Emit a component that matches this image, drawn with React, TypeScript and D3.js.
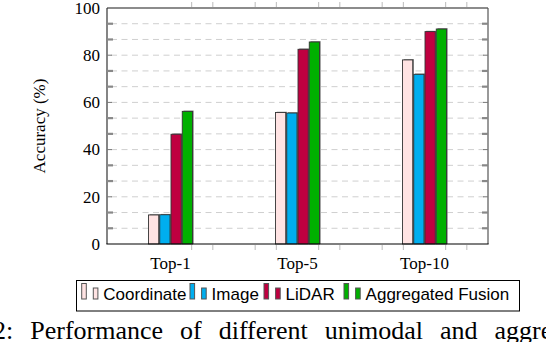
import React from "react";
import * as d3 from "d3";

const categories = ["Top-1", "Top-5", "Top-10"];
const seriesNames = ["Coordinate", "Image", "LiDAR", "Aggregated Fusion"];
const coordinate = [12.3, 55.7, 78.0];
const image = [12.4, 55.5, 71.9];
const lidar = [46.5, 82.5, 90.0];
const fusion = [56.2, 85.6, 91.1];
const yTickLabels = [0, 20, 40, 60, 80, 100];
const xMinorTicks = [1, 2, 4, 5, 7, 8, 10, 11, 13, 14].map((k) => k / 6);
const colors = ["#FFE3E3", "#00AEEF", "#BF0040", "#00B000"];

const W = 546;
const H = 342;
const L = 107, R = 488, T = 8, B = 244;

export default function App() {
  const values = [coordinate, image, lidar, fusion];
  const x = d3.scaleLinear().domain([-0.5, 2.5]).range([L, R]);
  const inner = d3.scaleBand<string>().domain(seriesNames).range([-22, 22]).paddingInner(0.09);
  const y = d3.scaleLinear().domain([0, 100]).range([B, T]);
  const gridVals = d3.range(1, 15).map((k) => (k * 20) / 3);
  const minorVals = gridVals.filter((v) => Math.abs(v / 20 - Math.round(v / 20)) > 0.01);
  const majorVals = yTickLabels.filter((v) => v > 0 && v < 100);
  const serif = "Liberation Serif, Times New Roman, serif";
  const sans = "Liberation Sans, Arial, sans-serif";
  const legendX = [81.7, 190, 264, 344];
  return (
    <svg width={W} height={H} style={{ position: "absolute", left: 0, top: 0, background: "#fff" }}>
      {gridVals.map((v) => (
        <line key={"g" + v} x1={L + 4} x2={R - 4} y1={y(v)} y2={y(v)} stroke="#cfcfcf" strokeWidth={1} strokeDasharray="6 4.5" />
      ))}
      {categories.map((c, i) => (
        <g key={c}>
          {seriesNames.map((s, j) => {
            const bx = x(i) + (inner(s) as number);
            const bw = inner.bandwidth();
            const by = y(values[j][i]);
            return (
              <g key={s}>
                <rect x={bx + 1.2} y={by - 0.8} width={bw} height={B - by + 0.8} fill="#808080" />
                <rect x={bx} y={by} width={bw} height={B - by} fill={colors[j]} stroke="#333" strokeWidth={0.9} />
              </g>
            );
          })}
        </g>
      ))}
      <line x1={L} x2={R} y1={T} y2={T} stroke="#666" strokeWidth={1.6} />
      <line x1={R} x2={R} y1={T} y2={B} stroke="#555" strokeWidth={1.2} />
      <line x1={L} x2={L} y1={T} y2={B} stroke="#333" strokeWidth={1.2} />
      <line x1={L - 0.6} x2={R + 0.6} y1={B} y2={B} stroke="#000" strokeWidth={1.2} />
      {minorVals.map((v) => (
        <g key={"m" + v}>
          <line x1={L} x2={L + 6} y1={y(v)} y2={y(v)} stroke="#888" strokeWidth={2.2} />
          <line x1={R - 6} x2={R} y1={y(v)} y2={y(v)} stroke="#888" strokeWidth={2.2} />
        </g>
      ))}
      {majorVals.map((v) => (
        <g key={"M" + v}>
          <line x1={L} x2={L + 5} y1={y(v)} y2={y(v)} stroke="#777" strokeWidth={1} />
          <line x1={R - 5} x2={R} y1={y(v)} y2={y(v)} stroke="#777" strokeWidth={1} />
        </g>
      ))}
      {xMinorTicks.map((t) => (
        <g key={"x" + t}>
          <line x1={x(t)} x2={x(t)} y1={B + 1} y2={B + 6} stroke="#bbb" strokeWidth={1} />
          <line x1={x(t)} x2={x(t)} y1={T - 6} y2={T - 1} stroke="#bbb" strokeWidth={1} />
        </g>
      ))}
      {yTickLabels.map((v) => (
        <text key={"yl" + v} x={100} y={y(v)} dy="0.34em" textAnchor="end" fontFamily={serif} fontSize={17} fill="#000">
          {v}
        </text>
      ))}
      <text transform={`translate(45,${(T + B) / 2}) rotate(-90)`} textAnchor="middle" fontFamily={serif} fontSize={17} fill="#000">
        Accuracy (%)
      </text>
      {categories.map((c, i) => (
        <text key={"xl" + c} x={x(i)} y={269} textAnchor="middle" fontFamily={serif} fontSize={17} fill="#000">
          {c}
        </text>
      ))}
      <rect x={76.5} y={280.5} width={443} height={30.5} fill="#fff" stroke="#000" strokeWidth={1} />
      {seriesNames.map((s, j) => (
        <g key={"lg" + s}>
          <rect x={legendX[j]} y={283.5} width={4.6} height={15.5} fill={colors[j]} stroke="#555" strokeWidth={1} />
          <rect x={legendX[j] + 11.6} y={288} width={4.6} height={11} fill={colors[j]} stroke="#555" strokeWidth={1} />
          <text x={legendX[j] + 21.6} y={300} fontFamily={sans} fontSize={17} fill="#000">
            {s}
          </text>
        </g>
      ))}
      <text x={-7} y={338.5} fontFamily={serif} fontSize={26} wordSpacing={10.5} fill="#000">
        2: Performance of different unimodal and aggregated fusion
      </text>
    </svg>
  );
}
